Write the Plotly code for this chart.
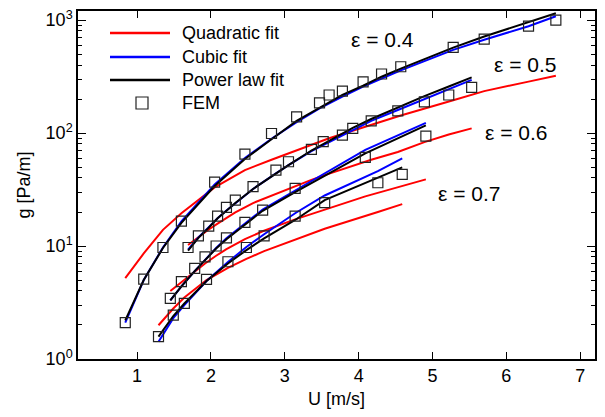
import math
import plotly.graph_objects as go

# ---------------- data ----------------
eps_labels = ["ε = 0.4", "ε = 0.5", "ε = 0.6", "ε = 0.7"]
label_x = [4.32, 6.26, 6.14, 5.50]
label_y = [679, 408, 102, 29.4]

u04 = [0.84, 1.09, 1.35, 1.60, 2.05, 2.46, 2.82, 3.16, 3.47, 3.60, 3.78, 4.06, 4.31, 4.57, 5.28, 5.70, 6.30, 6.67]
fem04 = [2.1, 5.1, 9.7, 16.6, 36.8, 65, 99, 139, 185, 217, 235, 284, 333, 386, 573, 679, 885, 1000]
quad04 = [5.2, 8.6, 13.9, 19.5, 33, 47, 58, 70, 84, 90, 98, 112, 128, 143, 195, 235, 285, 321]
cub04 = [2.1, 5.0, 9.7, 16.5, 35, 60, 89, 125, 165, 183, 210, 258, 305, 358, 545, 670, 880, 1080]
pow04 = [2.2, 5.0, 9.6, 16, 34, 59, 88, 128, 167, 187, 218, 262, 315, 372, 570, 715, 960, 1150]

u05 = [1.69, 1.83, 1.97, 2.09, 2.21, 2.33, 2.57, 2.88, 3.05, 3.36, 3.52, 3.78, 3.92, 4.17, 4.53, 4.89, 5.22, 5.53]
fem05 = [9.7, 12.3, 15.0, 18.4, 22, 25.5, 33.5, 47, 55.7, 71.7, 84, 96, 110, 128, 157, 189, 217, 254]
quad05 = [10.2, 12, 14, 15.8, 17.8, 19.8, 24, 29, 32, 38.5, 42, 48, 51, 58, 68, 83, 97, 110]
cub05 = [9.3, 11.9, 14.7, 17.6, 20.6, 24, 32, 44, 52, 69, 78, 96, 107, 128, 160, 200, 245, 295]
pow05 = [9.1, 11.8, 14.5, 17.6, 20.5, 24, 32, 44, 52, 70, 80, 99, 111, 133, 168, 212, 258, 311]

u06 = [1.45, 1.60, 1.78, 1.92, 2.07, 2.21, 2.46, 2.70, 3.14, 4.09, 4.91]
fem06 = [3.44, 4.83, 6.35, 8.0, 10, 11.8, 16.2, 20.8, 32.4, 61, 94]
quad06 = [4.0, 4.8, 6.0, 7.0, 8.2, 9.4, 11.5, 13.5, 17.2, 27.5, 38.9]
cub06 = [3.3, 4.4, 6.0, 7.6, 9.6, 11.7, 15.8, 21, 31, 71, 123]
pow06 = [3.3, 4.4, 6.0, 7.5, 9.5, 11.5, 15.5, 20.5, 30, 66, 117]

u07 = [1.29, 1.49, 1.64, 1.94, 2.23, 2.48, 2.72, 3.14, 3.54, 4.26, 4.59]
fem07 = [1.58, 2.45, 3.11, 5.07, 7.26, 9.7, 12.3, 18.4, 24.2, 36.3, 43.1]
quad07 = [1.99, 2.8, 3.5, 5.0, 6.4, 7.7, 9.0, 11.3, 14.2, 20, 23.5]
cub07 = [1.42, 2.3, 3.0, 4.9, 7.2, 9.8, 12.7, 19.5, 28, 46, 59.7]
pow07 = [1.58, 2.4, 3.1, 4.9, 7.0, 9.2, 11.7, 17, 25.5, 40, 49.7]

x_ticks = [1, 2, 3, 4, 5, 6, 7]
y_tickvals = [1, 10, 100, 1000]
y_ticktext = ["10<sup>0</sup>", "10<sup>1</sup>", "10<sup>2</sup>", "10<sup>3</sup>"]

legend_names = ["Quadratic fit", "Cubic fit", "Power law fit", "FEM"]

# ---------------- figure ----------------
FONT = "Liberation Sans, Arial, sans-serif"
RED, BLUE, BLACK = "#ff0000", "#0000ff", "#000000"
SQ = "#222222"

sets = [
    (u04, fem04, quad04, cub04, pow04),
    (u05, fem05, quad05, cub05, pow05),
    (u06, fem06, quad06, cub06, pow06),
    (u07, fem07, quad07, cub07, pow07),
]

fig = go.Figure()
for u, fem, q, c, p in sets:
    fig.add_trace(go.Scatter(x=u, y=q, mode="lines", line=dict(color=RED, width=2), showlegend=False))
for u, fem, q, c, p in sets:
    fig.add_trace(go.Scatter(x=u, y=c, mode="lines", line=dict(color=BLUE, width=2), showlegend=False))
for u, fem, q, c, p in sets:
    fig.add_trace(go.Scatter(x=u, y=p, mode="lines", line=dict(color=BLACK, width=2), showlegend=False))
for u, fem, q, c, p in sets:
    fig.add_trace(go.Scatter(x=u, y=fem, mode="markers",
                             marker=dict(symbol="square-open", size=10, color=SQ,
                                         line=dict(width=1.2, color=SQ)),
                             showlegend=False))

# epsilon labels
for t, lx, ly in zip(eps_labels, label_x, label_y):
    fig.add_annotation(x=lx, y=math.log10(ly), text=t, showarrow=False,
                       font=dict(family=FONT, size=21, color="black"))

# geometry: the page body adds an 8 px margin around the figure
OFF = 8
W, H = 589, 401
L, R, T, B = 70, 2, 3, 50
pw, ph = W - L - R, H - T - B


def px(page_x):
    return (page_x - OFF - L) / pw


def py(page_y):
    return (H - B - (page_y - OFF)) / ph


# custom legend (positions in page pixels)
row_y = [33, 57, 80, 103]
line_cols = [RED, BLUE, BLACK]
for yy, col in zip(row_y[:3], line_cols):
    fig.add_shape(type="line", xref="paper", yref="paper",
                  x0=px(110), x1=px(170), y0=py(yy), y1=py(yy),
                  line=dict(color=col, width=2.5))
fig.add_shape(type="rect", xref="paper", yref="paper",
              x0=px(136), x1=px(148), y0=py(row_y[3] + 6), y1=py(row_y[3] - 6),
              line=dict(color=SQ, width=1.2))
for yy, name in zip(row_y, legend_names):
    fig.add_annotation(xref="paper", yref="paper", x=px(180), y=py(yy), text=name,
                       showarrow=False, xanchor="left", yanchor="middle",
                       font=dict(family=FONT, size=18, color="black"))

fig.update_layout(
    width=W, height=H,
    margin=dict(l=L, r=R, t=T, b=B),
    paper_bgcolor="white", plot_bgcolor="white",
    font=dict(family=FONT, size=17, color="black"),
    showlegend=False,
)
fig.update_xaxes(
    range=[0.2, 7.2], tickvals=x_ticks, ticks="inside", ticklen=7, tickcolor="black",
    showline=True, linecolor="black", linewidth=1.5, mirror="allticks", showgrid=False,
    zeroline=False, tickfont=dict(family=FONT, size=18), automargin=False,
    ticklabeloverflow="allow",
    title=dict(text="U [m/s]", font=dict(family=FONT, size=18), standoff=7),
)
fig.update_yaxes(
    type="log", range=[0, 3.08], tickvals=y_tickvals, ticktext=y_ticktext,
    ticks="inside", ticklen=8, tickcolor="black",
    minor=dict(ticks="inside", ticklen=4, tickcolor="black",
               tickvals=[m * 10 ** k for k in range(3) for m in range(2, 10)], showgrid=False),
    showline=True, linecolor="black", linewidth=1.5, mirror="allticks", showgrid=False,
    zeroline=False, tickfont=dict(family=FONT, size=18), automargin=False,
    ticklabeloverflow="allow",
    title=dict(text="g [Pa/m]", font=dict(family=FONT, size=18), standoff=10),
)

fig.write_html("out.html")
